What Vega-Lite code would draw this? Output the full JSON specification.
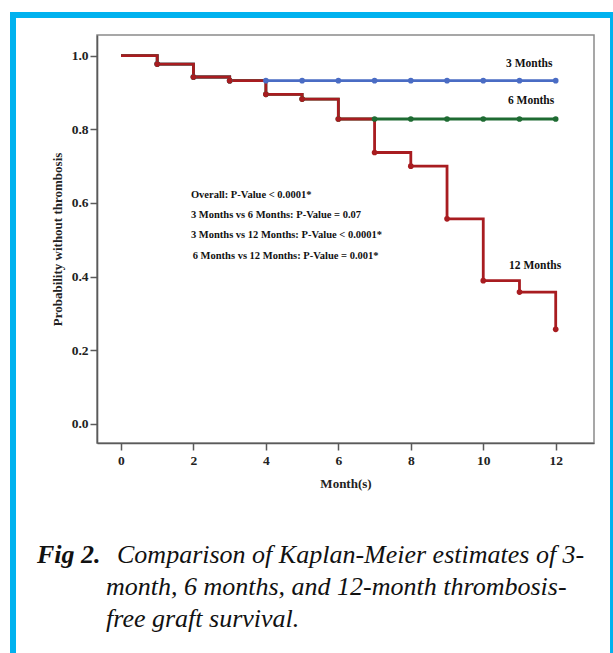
{
  "$schema": "https://vega.github.io/schema/vega-lite/v6.json",
  "width": 497,
  "height": 408,
  "autosize": {"type": "none"},
  "padding": {"left": 97, "top": 35, "right": 19, "bottom": 210},
  "background": "white",
  "config": {
    "font": "Liberation Serif",
    "view": {"stroke": "#8a8a8a", "strokeWidth": 1.5}
  },
  "datasets": {
    "km": [
      {"group": "3 Months", "month": 0, "survival": 1.0},
      {"group": "3 Months", "month": 1, "survival": 0.977},
      {"group": "3 Months", "month": 2, "survival": 0.942},
      {"group": "3 Months", "month": 3, "survival": 0.932},
      {"group": "3 Months", "month": 4, "survival": 0.932},
      {"group": "3 Months", "month": 5, "survival": 0.932},
      {"group": "3 Months", "month": 6, "survival": 0.932},
      {"group": "3 Months", "month": 7, "survival": 0.932},
      {"group": "3 Months", "month": 8, "survival": 0.932},
      {"group": "3 Months", "month": 9, "survival": 0.932},
      {"group": "3 Months", "month": 10, "survival": 0.932},
      {"group": "3 Months", "month": 11, "survival": 0.932},
      {"group": "3 Months", "month": 12, "survival": 0.932},
      {"group": "6 Months", "month": 0, "survival": 1.0},
      {"group": "6 Months", "month": 1, "survival": 0.977},
      {"group": "6 Months", "month": 2, "survival": 0.942},
      {"group": "6 Months", "month": 3, "survival": 0.932},
      {"group": "6 Months", "month": 4, "survival": 0.895},
      {"group": "6 Months", "month": 5, "survival": 0.882},
      {"group": "6 Months", "month": 6, "survival": 0.828},
      {"group": "6 Months", "month": 7, "survival": 0.828},
      {"group": "6 Months", "month": 8, "survival": 0.828},
      {"group": "6 Months", "month": 9, "survival": 0.828},
      {"group": "6 Months", "month": 10, "survival": 0.828},
      {"group": "6 Months", "month": 11, "survival": 0.828},
      {"group": "6 Months", "month": 12, "survival": 0.828},
      {"group": "12 Months", "month": 0, "survival": 1.0},
      {"group": "12 Months", "month": 1, "survival": 0.977},
      {"group": "12 Months", "month": 2, "survival": 0.942},
      {"group": "12 Months", "month": 3, "survival": 0.932},
      {"group": "12 Months", "month": 4, "survival": 0.895},
      {"group": "12 Months", "month": 5, "survival": 0.882},
      {"group": "12 Months", "month": 6, "survival": 0.828},
      {"group": "12 Months", "month": 7, "survival": 0.737},
      {"group": "12 Months", "month": 8, "survival": 0.700},
      {"group": "12 Months", "month": 9, "survival": 0.557},
      {"group": "12 Months", "month": 10, "survival": 0.389},
      {"group": "12 Months", "month": 11, "survival": 0.358},
      {"group": "12 Months", "month": 12, "survival": 0.257}
    ],
    "pvalues": [
      {"text": "Overall: P-Value < 0.0001*", "month": 1.93, "survival": 0.621},
      {"text": "3 Months vs 6 Months: P-Value = 0.07", "month": 1.93, "survival": 0.567},
      {"text": "3 Months vs 12 Months: P-Value < 0.0001*", "month": 1.93, "survival": 0.512},
      {"text": "6 Months vs 12 Months: P-Value = 0.001*", "month": 1.98, "survival": 0.457}
    ],
    "labels": [
      {"text": "3 Months", "month": 11.27, "survival": 0.977},
      {"text": "6 Months", "month": 11.32, "survival": 0.877},
      {"text": "12 Months", "month": 11.43, "survival": 0.429}
    ]
  },
  "layer": [
    {
      "data": {"name": "km"},
      "mark": {"type": "line", "interpolate": "step-after", "strokeWidth": 2.8},
      "encoding": {
        "x": {
          "field": "month", "type": "quantitative",
          "scale": {"domain": [-0.6625, 13.057], "nice": false, "zero": false},
          "axis": {
            "title": "Month(s)", "values": [0, 2, 4, 6, 8, 10, 12], "grid": false,
            "domainColor": "#5a5a5a", "domainWidth": 1.6, "tickColor": "#5a5a5a", "tickWidth": 1.5, "tickSize": 7,
            "labelFontSize": 13.5, "labelFontWeight": "bold", "labelColor": "#222222", "labelPadding": 3, "labelFlush": false,
            "titleFontSize": 13, "titleFontWeight": "bold", "titleColor": "#222222", "titlePadding": 11
          }
        },
        "y": {
          "field": "survival", "type": "quantitative",
          "scale": {"domain": [-0.0516, 1.056], "nice": false, "zero": false},
          "axis": {
            "title": "Probability without thrombosis", "values": [0, 0.2, 0.4, 0.6, 0.8, 1.0], "format": ".1f", "grid": false,
            "domainColor": "#5a5a5a", "domainWidth": 1.6, "tickColor": "#5a5a5a", "tickWidth": 1.5, "tickSize": 7,
            "labelFontSize": 13.5, "labelFontWeight": "bold", "labelColor": "#222222", "labelPadding": 2, "labelFlush": false,
            "titleFontSize": 13, "titleFontWeight": "bold", "titleColor": "#222222", "titlePadding": 7
          }
        },
        "color": {
          "field": "group", "type": "nominal",
          "scale": {"domain": ["3 Months", "6 Months", "12 Months"], "range": ["#4a6cc4", "#1e6b32", "#a81c20"]},
          "legend": null
        }
      }
    },
    {
      "data": {"name": "km"},
      "transform": [{"filter": "datum.month > 0"}],
      "mark": {"type": "point", "filled": true, "opacity": 1, "size": 32, "shape": "circle"},
      "encoding": {
        "x": {"field": "month", "type": "quantitative"},
        "y": {"field": "survival", "type": "quantitative"},
        "color": {"field": "group", "type": "nominal", "legend": null}
      }
    },
    {
      "data": {"name": "pvalues"},
      "mark": {"type": "text", "align": "left", "baseline": "middle", "fontSize": 10.5, "fontWeight": "bold", "color": "#111111"},
      "encoding": {
        "x": {"field": "month", "type": "quantitative"},
        "y": {"field": "survival", "type": "quantitative"},
        "text": {"field": "text"}
      }
    },
    {
      "data": {"name": "labels"},
      "mark": {"type": "text", "align": "center", "baseline": "middle", "fontSize": 11.5, "fontWeight": "bold", "color": "#111111"},
      "encoding": {
        "x": {"field": "month", "type": "quantitative"},
        "y": {"field": "survival", "type": "quantitative"},
        "text": {"field": "text"}
      }
    },
    {
      "data": {"values": [{}]},
      "mark": {"type": "rect", "fill": null, "stroke": "#00b2ef", "strokeWidth": 6, "clip": false},
      "encoding": {
        "x": {"datum": -2.981, "type": "quantitative"},
        "x2": {"datum": 13.582},
        "y": {"datum": 1.1105, "type": "quantitative"},
        "y2": {"datum": -0.7}
      }
    },
    {
      "data": {"values": [{"text": "Fig 2."}]},
      "mark": {"type": "text", "align": "left", "baseline": "alphabetic", "fontSize": 26, "fontWeight": "bold", "fontStyle": "italic", "color": "#111111"},
      "encoding": {
        "x": {"datum": -2.32, "type": "quantitative"},
        "y": {"datum": -0.377, "type": "quantitative"},
        "text": {"field": "text"}
      }
    },
    {
      "data": {"values": [{"text": "Comparison of Kaplan-Meier estimates of 3-"}]},
      "mark": {"type": "text", "align": "left", "baseline": "alphabetic", "fontSize": 26, "fontStyle": "italic", "fontWeight": "normal", "color": "#111111"},
      "encoding": {
        "x": {"datum": -0.11, "type": "quantitative"},
        "y": {"datum": -0.377, "type": "quantitative"},
        "text": {"field": "text"}
      }
    },
    {
      "data": {"values": [{}]},
      "mark": {
        "type": "text", "align": "left", "baseline": "alphabetic", "fontSize": 26, "fontStyle": "italic", "fontWeight": "normal", "lineHeight": 32, "color": "#111111",
        "text": ["month, 6 months, and 12-month thrombosis-", "free graft survival."]
      },
      "encoding": {
        "x": {"datum": -0.414, "type": "quantitative"},
        "y": {"datum": -0.464, "type": "quantitative"}
      }
    }
  ]
}
